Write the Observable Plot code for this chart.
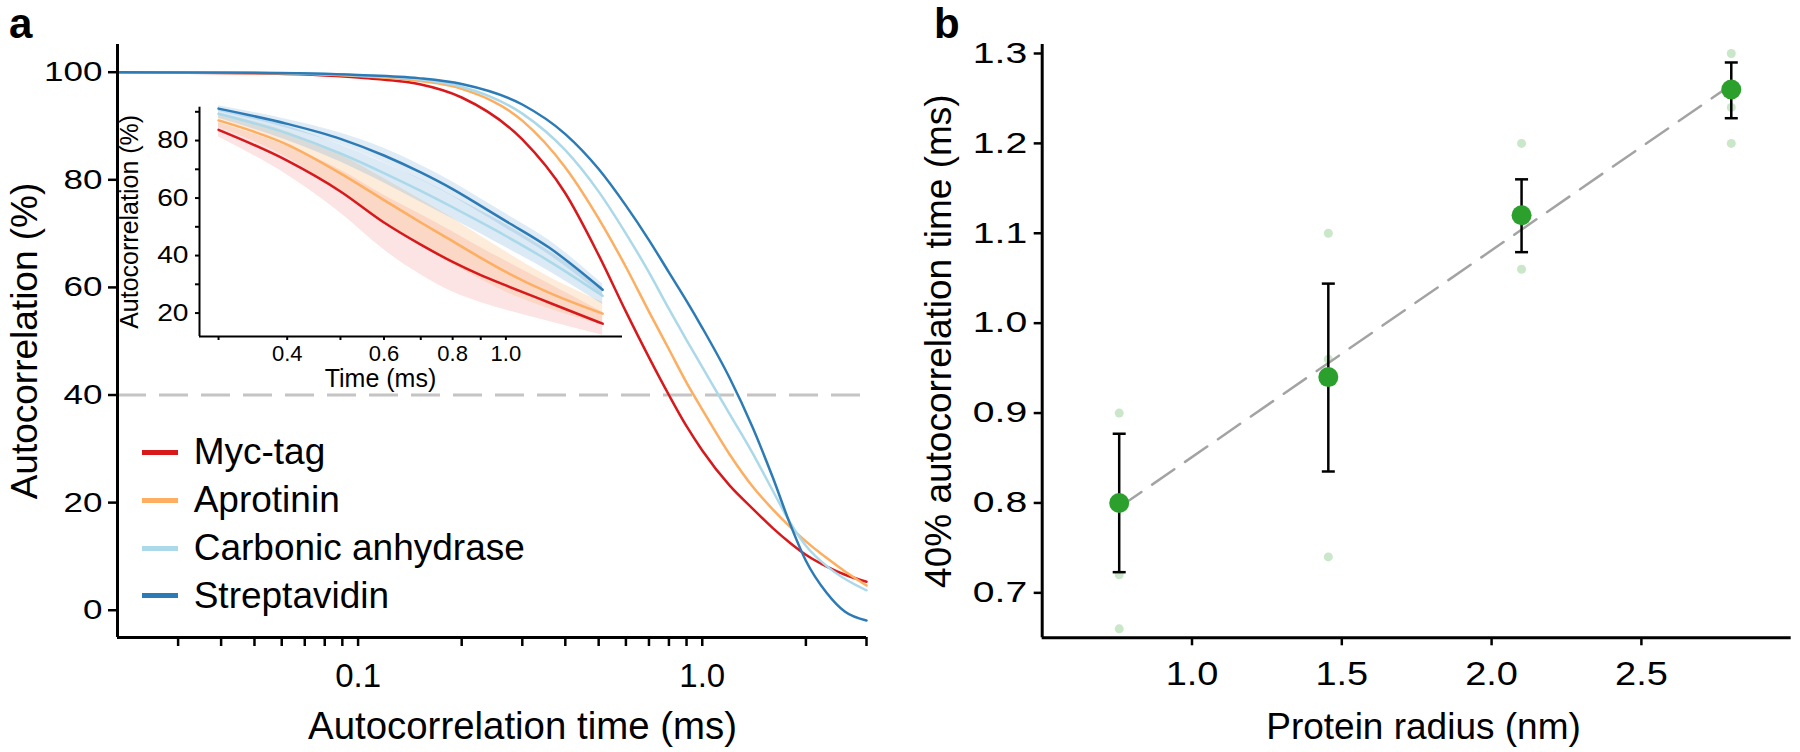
<!DOCTYPE html>
<html>
<head>
<meta charset="utf-8">
<script src="https://cdn.jsdelivr.net/npm/d3@7"></script>
<script src="https://cdn.jsdelivr.net/npm/@observablehq/plot@0.6"></script>
<style>
  body { margin: 0; background: #ffffff; }
  #root { position: relative; width: 1800px; height: 752px; overflow: hidden;
          font-family: "Liberation Sans", Arial, Helvetica, sans-serif; color: #000; }
  .letter { position: absolute; font-weight: bold; font-size: 42px; line-height: 42px; }
  .legrow { position: absolute; height: 44px; display: flex; align-items: center; font-size: 37px; white-space: nowrap; }
  .legrow .sw { width: 36px; height: 5px; margin-right: 16px; }
</style>
</head>
<body>
<div id="root"></div>
<script>
// ---------------- DATA ----------------
const series = ["Myc-tag", "Aprotinin", "Carbonic anhydrase", "Streptavidin"];
const colors = ["#d7191c", "#fdae61", "#abd9e9", "#2c7bb6"];

// Panel a: main autocorrelation curves (time in ms, autocorrelation in %)
const times = [0.02, 0.05, 0.1, 0.15, 0.2, 0.3, 0.4, 0.5, 0.6, 0.7, 0.8, 0.9, 1.0, 1.2, 1.4, 1.6, 1.8, 2.0, 2.3, 2.6, 3.0];
const mycTag       = [100, 99.8, 99.0, 97.8, 95.3, 87.5, 77.5, 66.0, 55.5, 47.0, 40.0, 34.2, 29.7, 23.2, 18.9, 15.3, 12.5, 10.3, 8.1, 6.6, 5.3];
const aprotinin    = [100, 99.85, 99.3, 98.4, 96.9, 91.0, 82.3, 72.8, 63.8, 55.5, 48.5, 42.3, 37.3, 29.0, 23.0, 18.8, 15.5, 12.8, 9.7, 7.2, 4.6];
const carbonic     = [100, 99.9, 99.4, 98.7, 97.3, 92.3, 85.5, 77.8, 70.0, 62.8, 56.0, 50.2, 45.2, 36.5, 29.2, 22.3, 16.3, 12.0, 8.2, 5.8, 3.7];
const streptavidin = [100, 99.9, 99.5, 98.9, 97.8, 94.0, 88.5, 82.0, 75.2, 68.8, 62.8, 57.5, 52.5, 43.2, 34.0, 24.8, 16.0, 9.2, 3.2, -0.3, -1.9];
const threshold = 40;

// Panel a inset: mean and spread
const insetTimes = [0.3, 0.4, 0.5, 0.6, 0.7, 0.8, 0.9, 1.0, 1.2, 1.5];
const insetMyc      = [83.7, 73.0, 62.3, 51.5, 43.8, 37.8, 33.2, 29.6, 23.6, 16.3];
const insetMycSd    = [2.5, 5, 7.5, 9.5, 10.5, 10.5, 9.5, 8.5, 6.5, 4];
const insetApro     = [87.0, 78.6, 68.6, 59.3, 51.5, 45.0, 39.2, 34.3, 27.0, 19.8];
const insetAproSd   = [2.5, 4.5, 6.5, 7.5, 8, 8, 7.5, 7, 5.5, 4];
const insetCarb     = [89.3, 82.5, 75.5, 68.7, 62.5, 56.8, 51.6, 46.8, 38.0, 26.0];
const insetCarbSd   = [1.5, 2.5, 3, 3.5, 4, 4, 4, 4, 3.5, 3];
const insetStrep    = [91.1, 85.8, 80.6, 74.8, 68.9, 63.1, 57.3, 52.0, 42.7, 28.1];
const insetStrepSd  = [1, 1.5, 2, 2.5, 2.5, 2.5, 2.5, 2.5, 2.5, 2];

// Axis ticks
const xTicksA  = [0.03, 0.04, 0.05, 0.06, 0.07, 0.08, 0.09, 0.1, 0.2, 0.3, 0.4, 0.5, 0.6, 0.7, 0.8, 0.9, 1, 2, 3];
const xLabelsA = [0.1, 1];
const yTicksA  = [0, 20, 40, 60, 80, 100];
const xTicksInset  = [0.3, 0.4, 0.5, 0.6, 0.7, 0.8, 0.9, 1.0];
const xLabelsInset = [0.4, 0.6, 0.8, 1.0];
const yTicksInset  = [20, 30, 40, 50, 60, 70, 80, 90];
const yLabelsInset = [20, 40, 60, 80];
const xTicksB = [1.0, 1.5, 2.0, 2.5];
const yTicksB = [0.7, 0.8, 0.9, 1.0, 1.1, 1.2, 1.3];

// Panel b: 40% autocorrelation time vs protein radius
const radius   = [0.757, 1.455, 2.10, 2.80];
const meanTime = [0.80, 0.94, 1.12, 1.26];
const errLow   = [0.723, 0.835, 1.079, 1.228];
const errHigh  = [0.877, 1.044, 1.160, 1.290];
const repRadius = [0.757, 0.757, 0.757, 1.455, 1.455, 1.455, 2.10, 2.10, 2.80, 2.80, 2.80];
const repTime   = [0.90, 0.72, 0.66, 1.10, 0.96, 0.74, 1.20, 1.06, 1.30, 1.24, 1.20];

// Text
const xTitleA = "Autocorrelation time (ms)";
const yTitleA = "Autocorrelation (%)";
const xTitleInset = "Time (ms)";
const yTitleInset = "Autocorrelation (%)";
const xTitleB = "Protein radius (nm)";
const yTitleB = "40% autocorrelation time (ms)";

// ---------------- BUILD ----------------
const font = '"Liberation Sans", Arial, Helvetica, sans-serif';
const green = "#2ca02c";
const root = document.getElementById("root");
const noLabel = () => "";

function place(el, left, top) {
  el.style.position = "absolute";
  el.style.left = left + "px";
  el.style.top = top + "px";
  root.appendChild(el);
}
function stretch(svg, label, sx) {
  d3.select(svg).selectAll(`g[aria-label="${label}"] text`).each(function () {
    const t = this.getAttribute("transform") || "";
    this.setAttribute("transform", t + ` scale(${sx},1)`);
  });
}
const mid = {textAnchor: "middle", lineAnchor: "middle"};

const mainValues = [mycTag, aprotinin, carbonic, streptavidin];
const mainRows = [];
series.forEach((s, i) => times.forEach((t, j) => mainRows.push({s, t, v: mainValues[i][j]})));

const insetMeans = [insetMyc, insetApro, insetCarb, insetStrep];
const insetSds = [insetMycSd, insetAproSd, insetCarbSd, insetStrepSd];
const insetRows = [];
series.forEach((s, i) => insetTimes.forEach((t, j) => insetRows.push({
  s, t, v: insetMeans[i][j], lo: insetMeans[i][j] - insetSds[i][j], hi: insetMeans[i][j] + insetSds[i][j]
})));

const xDomainA = [0.02, 3];
const yDomainA = [-5.07, 105.15];

const plotA = Plot.plot({
  width: 900, height: 752,
  marginLeft: 117, marginRight: 34, marginTop: 44, marginBottom: 115,
  style: {fontFamily: font, background: "transparent", color: "#000"},
  x: {type: "log", domain: xDomainA},
  y: {domain: yDomainA},
  color: {domain: series, range: colors},
  marks: [
    Plot.ruleY([threshold], {stroke: "#c4c4c4", strokeWidth: 3, strokeDasharray: "29,13"}),
    Plot.line(mainRows, {x: "t", y: "v", z: "s", stroke: "s", strokeWidth: 2.5, curve: "monotone-x"}),
    Plot.axisX(xTicksA, {label: null, tickSize: 9, tickFormat: noLabel, strokeWidth: 2.5}),
    Plot.text(xLabelsA, {x: d => d, text: d => d.toFixed(1), frameAnchor: "bottom", textAnchor: "middle",
      lineAnchor: "top", dy: 26, fontSize: 33, ariaLabel: "x-tick-text"}),
    Plot.axisY(yTicksA, {label: null, tickSize: 9, tickPadding: 6, strokeWidth: 2.5, fontSize: 28,
      tickFormat: d => String(d)}),
    Plot.ruleX([xDomainA[0]], {strokeWidth: 3}),
    Plot.ruleY([yDomainA[0]], {strokeWidth: 3}),
    Plot.text([xTitleA], {...mid, frameAnchor: "bottom", dx: 30.5, dy: 89.6, fontSize: 38.4}),
    Plot.text([yTitleA], {...mid, frameAnchor: "left", rotate: -90, dx: -92.8, fontSize: 37})
  ]
});
stretch(plotA, "x-tick-text", 1.15);
stretch(plotA, "y-axis tick label", 1.25);
place(plotA, 0, 0);

// Inset
const xDomainInset = [0.277, 1.63];
const yDomainInset = [11.85, 91.6];
const ribbonColors = ["#e8434a", "#f9a95a", "#5d9fd0", "#3a86c0"];
const ribbonOpacity = [0.14, 0.22, 0.22, 0.16];
const plotInset = Plot.plot({
  width: 900, height: 400,
  marginLeft: 199, marginRight: 278, marginTop: 106.7, marginBottom: 64,
  style: {fontFamily: font, background: "transparent", color: "#000"},
  x: {type: "log", domain: xDomainInset},
  y: {domain: yDomainInset},
  color: {domain: series, range: colors},
  marks: [
    ...series.map((s, i) => Plot.areaY(insetRows.filter(d => d.s === s),
      {x: "t", y1: "lo", y2: "hi", fill: ribbonColors[i], fillOpacity: ribbonOpacity[i], curve: "monotone-x"})),
    Plot.line(insetRows, {x: "t", y: "v", z: "s", stroke: "s", strokeWidth: 2.5, curve: "monotone-x"}),
    Plot.axisX(xTicksInset, {label: null, tickSize: 4, tickFormat: noLabel, strokeWidth: 2}),
    Plot.text(xLabelsInset, {x: d => d, text: d => d.toFixed(1), frameAnchor: "bottom", textAnchor: "middle",
      lineAnchor: "top", dy: 9, fontSize: 22, ariaLabel: "inset-x-tick-text"}),
    Plot.axisY(yTicksInset, {label: null, tickSize: 4, tickPadding: 7, strokeWidth: 2, fontSize: 23.5,
      tickFormat: d => yLabelsInset.includes(d) ? String(d) : ""}),
    Plot.ruleX([xDomainInset[0]], {strokeWidth: 2}),
    Plot.ruleY([yDomainInset[0]], {strokeWidth: 2}),
    Plot.text([xTitleInset], {...mid, frameAnchor: "bottom", dx: -30.5, dy: 42, fontSize: 25}),
    Plot.text([yTitleInset], {...mid, frameAnchor: "left", rotate: -90, dx: -69.5, fontSize: 25})
  ]
});
stretch(plotInset, "inset-x-tick-text", 1.25);
stretch(plotInset, "y-axis tick label", 1.2);
place(plotInset, 0, 0);

// Legend (panel a)
const legendY = [452.3, 500, 548.3, 595.7];
series.forEach((s, i) => {
  const row = document.createElement("div");
  row.className = "legrow";
  const sw = document.createElement("div");
  sw.className = "sw";
  sw.style.background = colors[i];
  const tx = document.createElement("span");
  tx.textContent = s;
  row.appendChild(sw);
  row.appendChild(tx);
  place(row, 141.7, legendY[i] - 22);
});

// Panel b
const meanRows = radius.map((r, i) => ({r, m: meanTime[i], lo: errLow[i], hi: errHigh[i]}));
const repRows = repRadius.map((r, i) => ({r, v: repTime[i]}));
const cap = {draw(ctx, size) { const w = Math.sqrt(size / Math.PI); ctx.moveTo(-w, 0); ctx.lineTo(w, 0); }};
const xDomainB = [0.5, 3.0];
const yDomainB = [0.65, 1.31];
const plotB = Plot.plot({
  width: 900, height: 752,
  marginLeft: 141.7, marginRight: 9.3, marginTop: 44, marginBottom: 114.7,
  style: {fontFamily: font, background: "transparent", color: "#000"},
  x: {domain: xDomainB},
  y: {domain: yDomainB},
  marks: [
    Plot.dot(repRows, {x: "r", y: "v", r: 4.5, fill: green, fillOpacity: 0.25}),
    Plot.linearRegressionY(meanRows, {x: "r", y: "m", stroke: "#a3a3a3", strokeWidth: 2.5, strokeDasharray: "27,13", ci: 0}),
    Plot.ruleX(meanRows, {x: "r", y1: "lo", y2: "hi", strokeWidth: 2.5}),
    Plot.dot(meanRows, {x: "r", y: "lo", symbol: cap, r: 6.5, stroke: "#000", strokeWidth: 2.5}),
    Plot.dot(meanRows, {x: "r", y: "hi", symbol: cap, r: 6.5, stroke: "#000", strokeWidth: 2.5}),
    Plot.dot(meanRows, {x: "r", y: "m", r: 10, fill: green}),
    Plot.axisX(xTicksB, {label: null, tickSize: 8, tickPadding: 16, strokeWidth: 2.5, fontSize: 33,
      tickFormat: d => d.toFixed(1)}),
    Plot.axisY(yTicksB, {label: null, tickSize: 8, tickPadding: 7, strokeWidth: 2.5, fontSize: 29,
      tickFormat: d => d.toFixed(1)}),
    Plot.ruleX([xDomainB[0]], {strokeWidth: 3}),
    Plot.ruleY([yDomainB[0]], {strokeWidth: 3}),
    Plot.text([xTitleB], {...mid, frameAnchor: "bottom", dx: 6.8, dy: 89.6, fontSize: 37}),
    Plot.text([yTitleB], {...mid, frameAnchor: "left", rotate: -90, dx: -103.5, fontSize: 37})
  ]
});
stretch(plotB, "x-axis tick label", 1.15);
stretch(plotB, "y-axis tick label", 1.35);
place(plotB, 900, 0);

// Panel letters
const la = document.createElement("div"); la.className = "letter"; la.textContent = "a"; place(la, 9, 3);
const lb = document.createElement("div"); lb.className = "letter"; lb.textContent = "b"; place(lb, 934, 3);
</script>
</body>
</html>
